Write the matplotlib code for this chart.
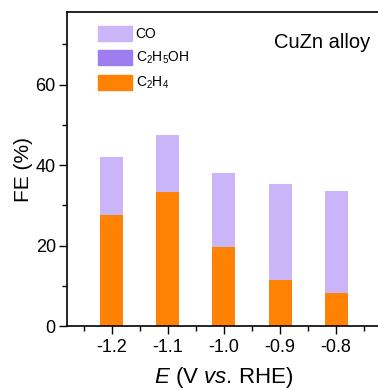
import numpy as np
import matplotlib.pyplot as plt
from matplotlib.patches import Patch

plt.rcParams['font.family'] = ['Liberation Sans', 'DejaVu Sans']
plt.rcParams['mathtext.fontset'] = 'custom'
plt.rcParams['mathtext.rm'] = 'Liberation Sans'
plt.rcParams['mathtext.it'] = 'Liberation Sans:italic'

# data
potential = [-1.2, -1.1, -1.0, -0.9, -0.8]
fe_c2h4 = [27.6, 33.2, 19.6, 11.4, 8.1]
fe_c2h5oh = [0, 0, 0, 0, 0]
fe_co = [14.3, 14.3, 18.5, 23.8, 25.5]

c_co = '#c9b5f7'
c_etoh = '#9d7df0'
c_c2h4 = '#ff8205'

fig = plt.figure(figsize=(3.78, 3.90), dpi=100)
ax = fig.add_axes([0.177, 0.164, 0.831, 0.805])

x = np.array(potential)
w = 0.041
b1 = np.array(fe_c2h4)
ax.bar(x, fe_c2h4, width=w, color=c_c2h4)
ax.bar(x, fe_c2h5oh, width=w, bottom=b1, color=c_etoh)
ax.bar(x, fe_co, width=w, bottom=b1 + np.array(fe_c2h5oh), color=c_co)

ax.set_xlim(-1.28, -0.72)
ax.set_ylim(0, 78)
ax.set_xticks(potential)
ax.set_xticklabels(['%.1f' % v for v in potential])
ax.set_xticks(np.arange(-1.25, -0.7, 0.1), minor=True)
ax.set_yticks([0, 20, 40, 60])
ax.set_yticks([10, 30, 50, 70], minor=True)
ax.tick_params(which='major', direction='out', length=6, width=1, labelsize=13, pad=2)
ax.tick_params(which='minor', direction='out', length=3.5, width=1)
ax.tick_params(axis='x', pad=3)
for s in ax.spines.values():
    s.set_linewidth(1.2)

ax.set_xlabel('$E$ (V $vs$. RHE)', fontsize=16, labelpad=7)
ax.set_ylabel('FE (%)', fontsize=15, labelpad=2)

handles = [Patch(color=c_co, label='CO'),
           Patch(color=c_etoh, label='C$_2$H$_5$OH'),
           Patch(color=c_c2h4, label='C$_2$H$_4$')]
ax.legend(handles=handles, loc='upper left', bbox_to_anchor=(0.099, 0.955),
          frameon=False, fontsize=10, handlelength=2.45, handleheight=1.3,
          labelspacing=0.6, handletextpad=0.25, borderpad=0, borderaxespad=0)
ax.text(0.66, 0.885, 'CuZn alloy', transform=ax.transAxes, fontsize=14.5)

fig.savefig('out.png', dpi=100)
